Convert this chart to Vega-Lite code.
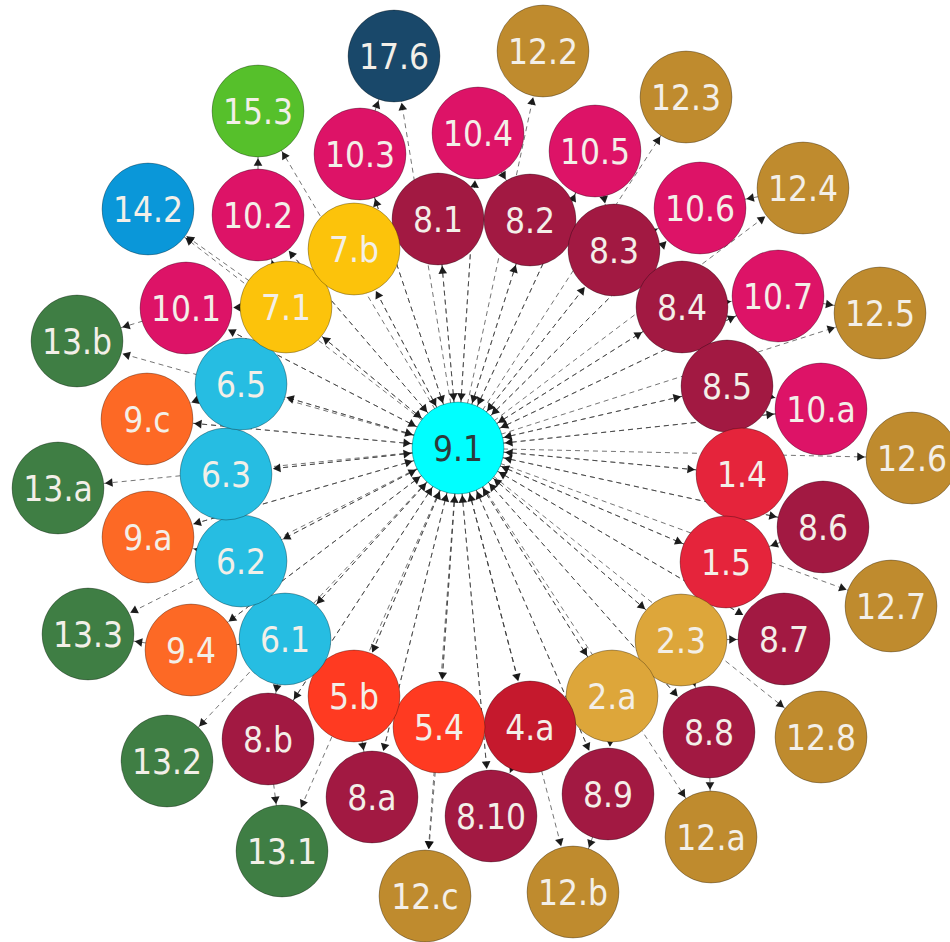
{
  "$schema": "https://vega.github.io/schema/vega-lite/v6.json",
  "width": 950,
  "height": 942,
  "padding": 0,
  "autosize": {"type": "none"},
  "background": "white",
  "config": {"view": {"stroke": null}},
  "datasets": {
    "nodes": [
      {"id": "9.1", "grp": "focus", "x": 458, "y": 448},
      {"id": "8.1", "grp": "8", "x": 438, "y": 219},
      {"id": "8.2", "grp": "8", "x": 530, "y": 220},
      {"id": "8.3", "grp": "8", "x": 614, "y": 250},
      {"id": "8.4", "grp": "8", "x": 682, "y": 307},
      {"id": "8.5", "grp": "8", "x": 727, "y": 386},
      {"id": "1.4", "grp": "1", "x": 742, "y": 474},
      {"id": "1.5", "grp": "1", "x": 726, "y": 562},
      {"id": "2.3", "grp": "2", "x": 681, "y": 640},
      {"id": "2.a", "grp": "2", "x": 612, "y": 696},
      {"id": "4.a", "grp": "4", "x": 530, "y": 727},
      {"id": "5.4", "grp": "5", "x": 439, "y": 727},
      {"id": "5.b", "grp": "5", "x": 354, "y": 696},
      {"id": "6.1", "grp": "6", "x": 285, "y": 639},
      {"id": "6.2", "grp": "6", "x": 241, "y": 561},
      {"id": "6.3", "grp": "6", "x": 226, "y": 474},
      {"id": "6.5", "grp": "6", "x": 241, "y": 384},
      {"id": "7.1", "grp": "7", "x": 286, "y": 307},
      {"id": "7.b", "grp": "7", "x": 354, "y": 249},
      {"id": "10.3", "grp": "10", "x": 360, "y": 154},
      {"id": "10.4", "grp": "10", "x": 478, "y": 133},
      {"id": "10.5", "grp": "10", "x": 595, "y": 151},
      {"id": "10.6", "grp": "10", "x": 700, "y": 208},
      {"id": "10.7", "grp": "10", "x": 778, "y": 296},
      {"id": "10.a", "grp": "10", "x": 821, "y": 409},
      {"id": "8.6", "grp": "8", "x": 823, "y": 527},
      {"id": "8.7", "grp": "8", "x": 784, "y": 639},
      {"id": "8.8", "grp": "8", "x": 709, "y": 732},
      {"id": "8.9", "grp": "8", "x": 608, "y": 794},
      {"id": "8.10", "grp": "8", "x": 491, "y": 816},
      {"id": "8.a", "grp": "8", "x": 372, "y": 797},
      {"id": "8.b", "grp": "8", "x": 268, "y": 739},
      {"id": "9.4", "grp": "9", "x": 191, "y": 650},
      {"id": "9.a", "grp": "9", "x": 148, "y": 537},
      {"id": "9.c", "grp": "9", "x": 147, "y": 419},
      {"id": "10.1", "grp": "10", "x": 186, "y": 308},
      {"id": "10.2", "grp": "10", "x": 258, "y": 215},
      {"id": "17.6", "grp": "17", "x": 394, "y": 56},
      {"id": "12.2", "grp": "12", "x": 543, "y": 51},
      {"id": "12.3", "grp": "12", "x": 686, "y": 97},
      {"id": "12.4", "grp": "12", "x": 803, "y": 188},
      {"id": "12.5", "grp": "12", "x": 880, "y": 313},
      {"id": "12.6", "grp": "12", "x": 912, "y": 458},
      {"id": "12.7", "grp": "12", "x": 891, "y": 606},
      {"id": "12.8", "grp": "12", "x": 821, "y": 737},
      {"id": "12.a", "grp": "12", "x": 711, "y": 837},
      {"id": "12.b", "grp": "12", "x": 573, "y": 892},
      {"id": "12.c", "grp": "12", "x": 425, "y": 896},
      {"id": "13.1", "grp": "13", "x": 282, "y": 851},
      {"id": "13.2", "grp": "13", "x": 167, "y": 761},
      {"id": "13.3", "grp": "13", "x": 88, "y": 634},
      {"id": "13.a", "grp": "13", "x": 58, "y": 488},
      {"id": "13.b", "grp": "13", "x": 77, "y": 341},
      {"id": "14.2", "grp": "14", "x": 148, "y": 209},
      {"id": "15.3", "grp": "15", "x": 258, "y": 111}
    ],
    "edges": [
      {"s": "8.1", "t": "9.1"}, {"s": "8.2", "t": "9.1"}, {"s": "8.3", "t": "9.1"}, {"s": "8.4", "t": "9.1"},
      {"s": "8.5", "t": "9.1"}, {"s": "1.4", "t": "9.1"}, {"s": "1.5", "t": "9.1"}, {"s": "2.3", "t": "9.1"},
      {"s": "2.a", "t": "9.1"}, {"s": "4.a", "t": "9.1"}, {"s": "5.4", "t": "9.1"}, {"s": "5.b", "t": "9.1"},
      {"s": "6.1", "t": "9.1"}, {"s": "6.2", "t": "9.1"}, {"s": "6.3", "t": "9.1"}, {"s": "6.5", "t": "9.1"},
      {"s": "7.1", "t": "9.1"}, {"s": "7.b", "t": "9.1"},
      {"s": "10.3", "t": "9.1"}, {"s": "10.4", "t": "9.1"}, {"s": "10.5", "t": "9.1"}, {"s": "10.6", "t": "9.1"},
      {"s": "10.7", "t": "9.1"}, {"s": "10.a", "t": "9.1"}, {"s": "8.6", "t": "9.1"}, {"s": "8.7", "t": "9.1"},
      {"s": "8.8", "t": "9.1"}, {"s": "8.9", "t": "9.1"}, {"s": "8.10", "t": "9.1"}, {"s": "8.a", "t": "9.1"},
      {"s": "8.b", "t": "9.1"}, {"s": "9.4", "t": "9.1"}, {"s": "9.a", "t": "9.1"}, {"s": "9.c", "t": "9.1"},
      {"s": "10.1", "t": "9.1"}, {"s": "10.2", "t": "9.1"},
      {"s": "9.1", "t": "8.1"}, {"s": "9.1", "t": "8.2"}, {"s": "9.1", "t": "8.3"}, {"s": "9.1", "t": "8.4"},
      {"s": "9.1", "t": "8.5"}, {"s": "9.1", "t": "1.4"}, {"s": "9.1", "t": "1.5"}, {"s": "9.1", "t": "2.3"},
      {"s": "9.1", "t": "2.a"}, {"s": "9.1", "t": "4.a"}, {"s": "9.1", "t": "5.4"}, {"s": "9.1", "t": "5.b"},
      {"s": "9.1", "t": "6.1"}, {"s": "9.1", "t": "6.2"}, {"s": "9.1", "t": "6.3"}, {"s": "9.1", "t": "6.5"},
      {"s": "9.1", "t": "7.1"}, {"s": "9.1", "t": "7.b"},
      {"s": "9.1", "t": "10.3"}, {"s": "9.1", "t": "10.4"}, {"s": "9.1", "t": "10.5"}, {"s": "9.1", "t": "10.6"},
      {"s": "9.1", "t": "10.7"}, {"s": "9.1", "t": "10.a"}, {"s": "9.1", "t": "8.6"}, {"s": "9.1", "t": "8.7"},
      {"s": "9.1", "t": "8.8"}, {"s": "9.1", "t": "8.9"}, {"s": "9.1", "t": "8.10"}, {"s": "9.1", "t": "8.a"},
      {"s": "9.1", "t": "8.b"}, {"s": "9.1", "t": "9.4"}, {"s": "9.1", "t": "9.a"}, {"s": "9.1", "t": "9.c"},
      {"s": "9.1", "t": "10.1"}, {"s": "9.1", "t": "10.2"},
      {"s": "9.1", "t": "17.6"}, {"s": "9.1", "t": "12.2"}, {"s": "9.1", "t": "12.3"}, {"s": "9.1", "t": "12.4"},
      {"s": "9.1", "t": "12.5"}, {"s": "9.1", "t": "12.6"}, {"s": "9.1", "t": "12.7"}, {"s": "9.1", "t": "12.8"},
      {"s": "9.1", "t": "12.a"}, {"s": "9.1", "t": "12.b"}, {"s": "9.1", "t": "12.c"}, {"s": "9.1", "t": "13.1"},
      {"s": "9.1", "t": "13.2"}, {"s": "9.1", "t": "13.3"}, {"s": "9.1", "t": "13.a"}, {"s": "9.1", "t": "13.b"},
      {"s": "9.1", "t": "14.2"}, {"s": "9.1", "t": "15.3"},
      {"s": "10.3", "t": "17.6"}, {"s": "10.4", "t": "8.2"}, {"s": "10.5", "t": "8.3"}, {"s": "8.3", "t": "10.6"},
      {"s": "12.4", "t": "10.6"}, {"s": "8.4", "t": "10.7"}, {"s": "10.7", "t": "12.5"}, {"s": "8.5", "t": "10.a"},
      {"s": "8.6", "t": "1.5"}, {"s": "2.3", "t": "8.7"}, {"s": "2.3", "t": "8.8"}, {"s": "8.8", "t": "12.a"},
      {"s": "2.a", "t": "8.9"}, {"s": "8.9", "t": "12.b"}, {"s": "4.a", "t": "8.10"}, {"s": "5.b", "t": "8.a"},
      {"s": "6.1", "t": "8.b"}, {"s": "8.b", "t": "13.1"}, {"s": "6.1", "t": "9.4"}, {"s": "9.4", "t": "13.3"},
      {"s": "6.2", "t": "9.a"}, {"s": "6.5", "t": "9.c"}, {"s": "7.1", "t": "10.1"}, {"s": "10.1", "t": "13.b"},
      {"s": "7.1", "t": "10.2"}, {"s": "10.2", "t": "15.3"}, {"s": "7.1", "t": "14.2"}, {"s": "5.4", "t": "12.c"}
    ]
  },
  "layer": [
    {
      "data": {"name": "edges"},
      "transform": [
        {"lookup": "s", "from": {"data": {"name": "nodes"}, "key": "id", "fields": ["x", "y"]}, "as": ["sx", "sy"]},
        {"lookup": "t", "from": {"data": {"name": "nodes"}, "key": "id", "fields": ["x", "y"]}, "as": ["tx", "ty"]},
        {"calculate": "datum.t === '9.1' ? datum.tx : datum.sx", "as": "x1"},
        {"calculate": "datum.t === '9.1' ? datum.ty : datum.sy", "as": "y1"},
        {"calculate": "datum.t === '9.1' ? datum.sx : datum.tx", "as": "x2"},
        {"calculate": "datum.t === '9.1' ? datum.sy : datum.ty", "as": "y2"}
      ],
      "mark": {"type": "rule", "stroke": "#3a3a3a", "strokeWidth": 1, "strokeDash": [5, 4], "opacity": 0.7},
      "encoding": {
        "x": {"field": "x1", "type": "quantitative", "scale": {"domain": [0, 950], "nice": false, "zero": false}, "axis": null},
        "y": {"field": "y1", "type": "quantitative", "scale": {"domain": [0, 942], "nice": false, "zero": false, "reverse": true}, "axis": null},
        "x2": {"field": "x2"},
        "y2": {"field": "y2"}
      }
    },
    {
      "data": {"name": "edges"},
      "transform": [
        {"lookup": "s", "from": {"data": {"name": "nodes"}, "key": "id", "fields": ["x", "y"]}, "as": ["sx", "sy"]},
        {"lookup": "t", "from": {"data": {"name": "nodes"}, "key": "id", "fields": ["x", "y"]}, "as": ["tx", "ty"]},
        {"calculate": "sqrt(pow(datum.tx - datum.sx, 2) + pow(datum.ty - datum.sy, 2))", "as": "len"},
        {"calculate": "datum.tx - (datum.tx - datum.sx) / datum.len * 51", "as": "ax"},
        {"calculate": "datum.ty - (datum.ty - datum.sy) / datum.len * 51", "as": "ay"},
        {"calculate": "atan2(datum.tx - datum.sx, datum.sy - datum.ty) * 180 / PI", "as": "ang"}
      ],
      "mark": {"type": "point", "shape": "triangle-up", "filled": true, "color": "#111111", "size": 75, "opacity": 0.95},
      "encoding": {
        "x": {"field": "ax", "type": "quantitative", "scale": {"domain": [0, 950], "nice": false, "zero": false}, "axis": null},
        "y": {"field": "ay", "type": "quantitative", "scale": {"domain": [0, 942], "nice": false, "zero": false, "reverse": true}, "axis": null},
        "angle": {"field": "ang", "type": "quantitative", "scale": null}
      }
    },
    {
      "data": {"name": "nodes"},
      "mark": {"type": "point", "shape": "circle", "filled": true, "size": 8450, "opacity": 1, "stroke": "#000000", "strokeOpacity": 0.3, "strokeWidth": 1},
      "encoding": {
        "x": {"field": "x", "type": "quantitative", "scale": {"domain": [0, 950], "nice": false, "zero": false}, "axis": null},
        "y": {"field": "y", "type": "quantitative", "scale": {"domain": [0, 942], "nice": false, "zero": false, "reverse": true}, "axis": null},
        "fill": {
          "field": "grp", "type": "nominal", "legend": null,
          "scale": {
            "domain": ["focus", "1", "2", "4", "5", "6", "7", "8", "9", "10", "12", "13", "14", "15", "17"],
            "range": ["#00FFFF", "#E5243B", "#DDA63A", "#C5192D", "#FF3A21", "#26BDE2", "#FCC30B", "#A21942", "#FD6925", "#DD1367", "#BF8B2E", "#3F7E44", "#0A97D9", "#56C02B", "#19486A"]
          }
        }
      }
    },
    {
      "data": {"name": "nodes"},
      "mark": {"type": "text", "font": "'DejaVu Sans Condensed', 'Liberation Sans', sans-serif", "fontSize": 35, "align": "center", "baseline": "middle", "dy": 2},
      "encoding": {
        "x": {"field": "x", "type": "quantitative", "scale": {"domain": [0, 950], "nice": false, "zero": false}, "axis": null},
        "y": {"field": "y", "type": "quantitative", "scale": {"domain": [0, 942], "nice": false, "zero": false, "reverse": true}, "axis": null},
        "text": {"field": "id", "type": "nominal"},
        "color": {"condition": {"test": "datum.grp === 'focus'", "value": "#2f3b3b"}, "value": "#F3EFE8"}
      }
    }
  ]
}
